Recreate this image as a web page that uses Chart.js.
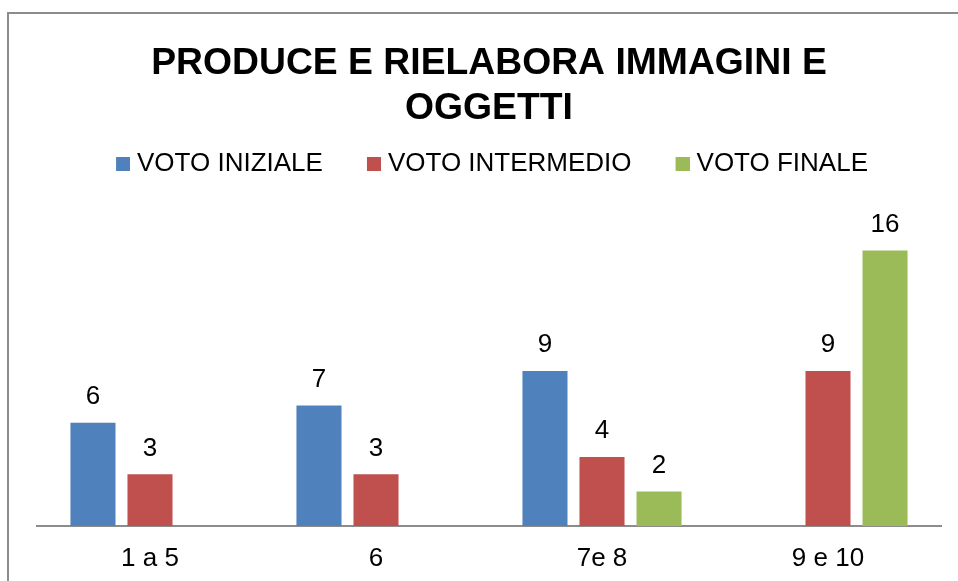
<!DOCTYPE html>
<html>
<head>
<meta charset="utf-8">
<script src="https://cdn.jsdelivr.net/npm/chart.js@4/dist/chart.umd.min.js"></script>
<style>
  html, body { margin: 0; padding: 0; background: #fff; }
  #wrap { position: relative; width: 958px; height: 581px; overflow: hidden; }
  #frame { position: absolute; left: 7px; top: 12px; width: 1000px; height: 700px;
           border-left: 2px solid #8c8c8c; border-top: 2px solid #8c8c8c; box-sizing: border-box; }
  canvas { position: absolute; left: 0; top: 0; }
</style>
</head>
<body>
<div id="wrap">
  <div id="frame"></div>
  <canvas id="c" width="958" height="581"></canvas>
</div>
<script>
const titleLines = ["PRODUCE E RIELABORA IMMAGINI E", "OGGETTI"];
const categories = ["1 a 5", "6", "7e 8", "9 e 10"];
const seriesNames = ["VOTO INIZIALE", "VOTO INTERMEDIO", "VOTO FINALE"];
const votoIniziale = [6, 7, 9, null];
const votoIntermedio = [3, 3, 4, 9];
const votoFinale = [null, null, 2, 16];
const seriesColors = ["#4F81BD", "#C0504D", "#9BBB59"];

const FONT = "'Liberation Sans', Arial, sans-serif";

// legend marker: 14x14 square, drawn so that the gap to the text is small
function makeMarker(color) {
  const cv = document.createElement('canvas');
  cv.width = 26; cv.height = 14;
  const g = cv.getContext('2d');
  g.fillStyle = color;
  g.fillRect(12, 0, 14, 14);
  return cv;
}
const markers = seriesColors.map(makeMarker);

const valueLabels = {
  id: 'valueLabels',
  afterDatasetsDraw(chart) {
    const ctx = chart.ctx;
    ctx.save();
    ctx.font = "26px " + FONT;
    ctx.fillStyle = "#000";
    ctx.textAlign = "center";
    ctx.textBaseline = "middle";
    chart.data.datasets.forEach((ds, i) => {
      const meta = chart.getDatasetMeta(i);
      meta.data.forEach((el, j) => {
        const v = ds.data[j];
        if (v === null || v === undefined) return;
        ctx.fillText(String(v), el.x, el.y - 26);
      });
    });
    ctx.restore();
  }
};

new Chart(document.getElementById('c'), {
  type: 'bar',
  data: {
    labels: categories,
    datasets: [
      { label: seriesNames[0], data: votoIniziale, backgroundColor: seriesColors[0] },
      { label: seriesNames[1], data: votoIntermedio, backgroundColor: seriesColors[1] },
      { label: seriesNames[2], data: votoFinale, backgroundColor: seriesColors[2] }
    ]
  },
  options: {
    responsive: false,
    animation: false,
    devicePixelRatio: 1,
    layout: { padding: { left: 37, right: 17, top: 0, bottom: 0 } },
    datasets: { bar: { categoryPercentage: 0.757, barPercentage: 0.79 } },
    plugins: {
      title: {
        display: true,
        text: titleLines,
        color: "#000",
        font: { family: FONT, size: 37.3, weight: 'bold', lineHeight: 1.19 },
        padding: { top: 42, bottom: -18 }
      },
      legend: {
        display: true,
        position: 'top',
        labels: {
          color: "#000",
          font: { family: FONT, size: 26 },
          boxWidth: 14,
          boxHeight: 14,
          usePointStyle: true,
          padding: 38,
          generateLabels(chart) {
            const items = Chart.defaults.plugins.legend.labels.generateLabels(chart);
            items.forEach((it, i) => { it.pointStyle = markers[i]; });
            return items;
          }
        }
      },
      tooltip: { enabled: false }
    },
    scales: {
      x: {
        grid: { display: false, drawTicks: false },
        border: { display: true, color: "#8c8c8c", width: 2 },
        ticks: { color: "#000", font: { family: FONT, size: 26 }, padding: 17 },
        afterFit(scale) { scale.height = 55; }
      },
      y: {
        display: false,
        min: 0,
        max: 19.7
      }
    }
  },
  plugins: [valueLabels]
});
</script>
</body>
</html>
